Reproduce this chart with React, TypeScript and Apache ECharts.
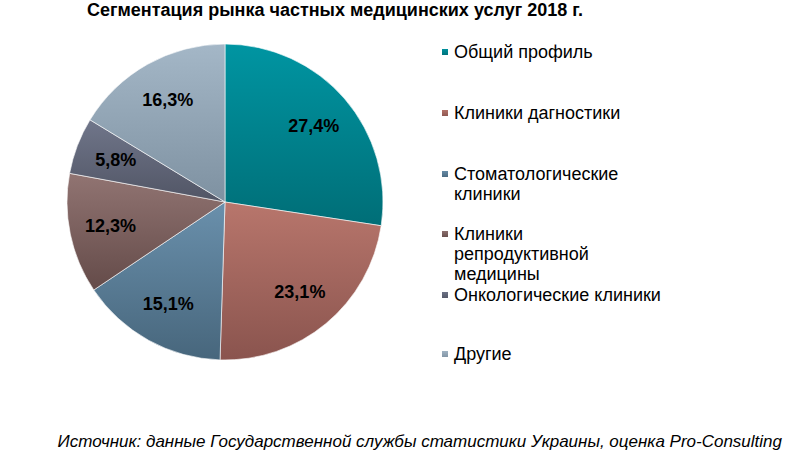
import React, { useEffect, useRef } from "react";
import * as echarts from "echarts";

const categories = [
  "Общий профиль",
  "Клиники дагностики",
  "Стоматологические\nклиники",
  "Клиники\nрепродуктивной\nмедицины",
  "Онкологические клиники",
  "Другие",
];
const values = [27.4, 23.1, 15.1, 12.3, 5.8, 16.3];
const valueLabels = ["27,4%", "23,1%", "15,1%", "12,3%", "5,8%", "16,3%"];

const gradientTop = ["#0095A2", "#B8766C", "#6A90AC", "#917472", "#70768A", "#A4B7C7"];
const gradientBottom = ["#006E77", "#8A544E", "#47667C", "#644B49", "#515565", "#7E91A1"];
const legendCenters = [52, 113, 174, 234, 295, 354];

export default function App() {
  const ref = useRef<HTMLDivElement>(null);
  useEffect(() => {
    document.body.style.margin = "0";
    if (!ref.current) return;
    const chart = echarts.init(ref.current, undefined, { renderer: "svg" });
    const colorFor = (i: number) =>
      new echarts.graphic.LinearGradient(0, 0, 0, 1, [
        { offset: 0, color: gradientTop[i] },
        { offset: 1, color: gradientBottom[i] },
      ]);
    const pieData = categories.map((name, i) => ({
      name,
      value: values[i],
      itemStyle: { color: colorFor(i) },
    }));
    const labelData = categories.map((name, i) => ({
      name,
      value: values[i],
      label: { formatter: valueLabels[i] },
    }));
    const lineH = 20;
    const legends = categories.map((name, i) => {
      const n = name.split("\n").length;
      return {
        orient: "vertical",
        left: 440,
        top: legendCenters[i] - ((2 * n - 1) * lineH) / 2,
        padding: 0,
        itemWidth: 8,
        itemHeight: 8,
        icon: "rect",
        selectedMode: false,
        itemGap: 0,
        data: [name],
        formatter: (s: string) => "\n".repeat(n - 1) + s,
        textStyle: {
          fontFamily: "Liberation Sans, Arial, sans-serif",
          fontSize: 18,
          lineHeight: lineH,
          color: "#000",
        },
      };
    });
    chart.setOption({
      animation: false,
      backgroundColor: "#fff",
      title: [
        {
          text: "Сегментация рынка частных медицинских услуг 2018 г.",
          left: 82,
          top: 1,
          padding: [0, 5],
          textStyle: {
            fontFamily: "Liberation Sans, Arial, sans-serif",
            fontSize: 18,
            fontWeight: "bold",
            color: "#000",
          },
        },
        {
          text: "Источник: данные Государственной службы статистики Украины, оценка Pro-Consulting",
          right: 5,
          top: 433,
          padding: 0,
          textStyle: {
            fontFamily: "Liberation Sans, Arial, sans-serif",
            fontSize: 17,
            fontStyle: "italic",
            fontWeight: "normal",
            color: "#000",
          },
        },
      ],
      legend: legends,
      series: [
        {
          type: "pie",
          center: [225, 202],
          radius: [0, 158],
          startAngle: 90,
          clockwise: true,
          label: { show: false },
          labelLine: { show: false },
          itemStyle: { borderColor: "#ffffff", borderWidth: 0.6 },
          emphasis: { disabled: true },
          data: pieData,
        },
        {
          type: "pie",
          center: [225, 202],
          radius: [70, 158],
          startAngle: 90,
          clockwise: true,
          silent: true,
          itemStyle: { color: "rgba(0,0,0,0)" },
          label: {
            show: true,
            position: "inside",
            fontFamily: "Liberation Sans, Arial, sans-serif",
            fontSize: 18,
            fontWeight: "bold",
            color: "#000",
          },
          labelLine: { show: false },
          emphasis: { disabled: true },
          data: labelData,
          legendHoverLink: false,
        },
      ],
    });
    return () => chart.dispose();
  }, []);
  return <div ref={ref} style={{ width: 787, height: 459 }} />;
}
